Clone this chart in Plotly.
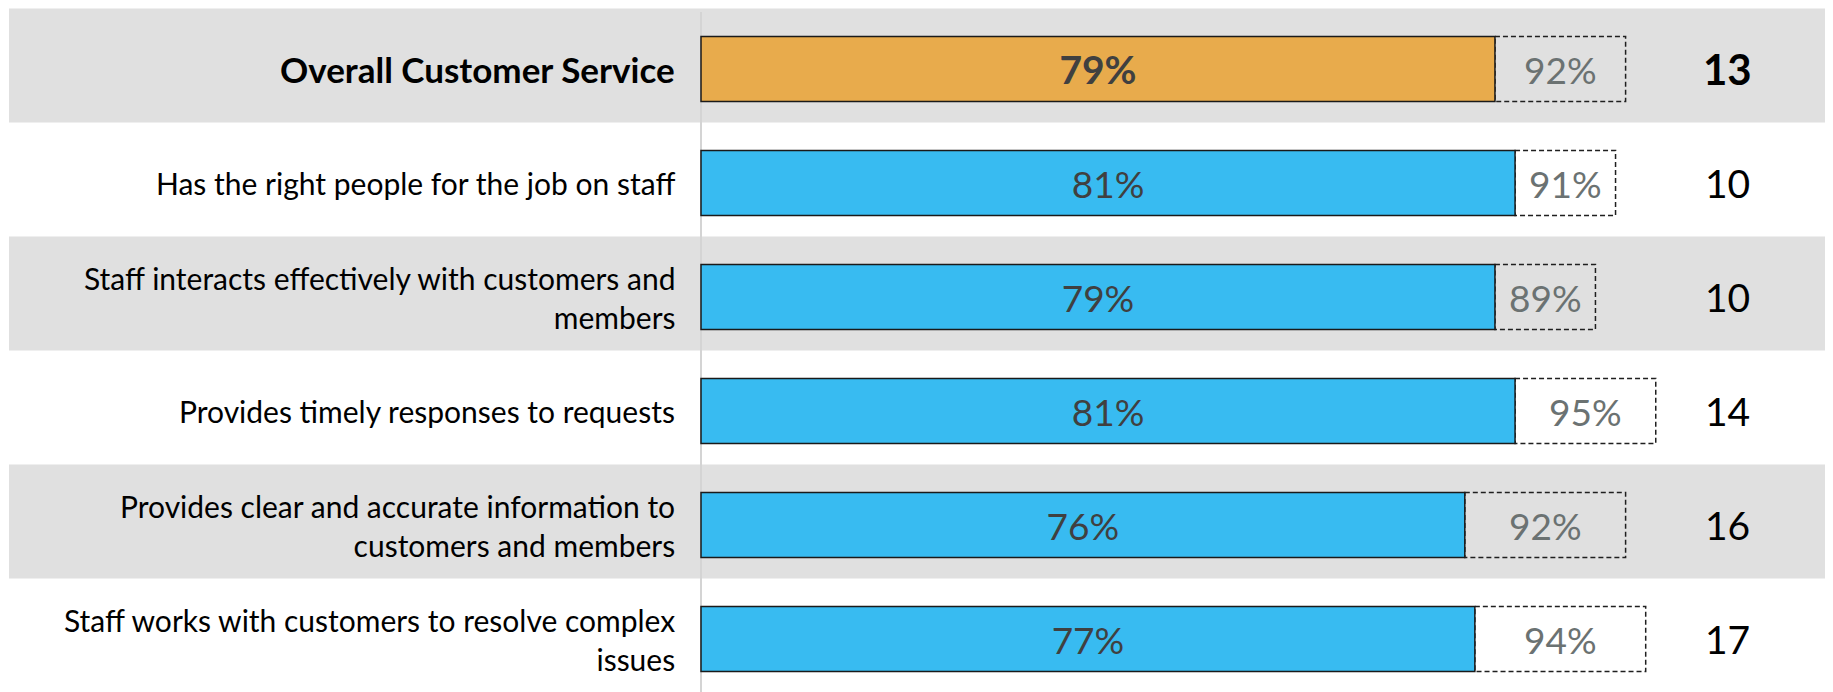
import plotly.graph_objects as go

categories = [
    "Overall Customer Service",
    "Has the right people for the job on staff",
    "Staff interacts effectively with customers and<br>members",
    "Provides timely responses to requests",
    "Provides clear and accurate information to<br>customers and members",
    "Staff works with customers to resolve complex<br>issues",
]
scores = [79, 81, 79, 81, 76, 77]
targets = [92, 91, 89, 95, 92, 94]
gaps = [13, 10, 10, 14, 16, 17]
highlight = [True, False, False, False, False, False]

ORANGE = "#E8AB4C"
BLUE = "#38BBF1"
BAND = "#E0E0E0"
FONT = "Lato"

W, H = 1833, 692
OFF = 8  # page body margin
px_per_pct = 10.05
x0_px = 701 - OFF
x_range = [-x0_px / px_per_pct, (W - x0_px) / px_per_pct]
row_px = 114.0
row0_px = 69.0 - OFF
y_range = [(H - row0_px) / row_px, -row0_px / row_px]

rows = list(range(len(categories)))

fig = go.Figure()

shapes = []
for i in rows:
    if i % 2 == 0:
        shapes.append(dict(type="rect", xref="paper", yref="y",
                           x0=1 / W, x1=1, y0=i - 0.53, y1=i + 0.47,
                           fillcolor=BAND, line=dict(width=0), layer="below"))
shapes.append(dict(type="line", xref="x", yref="paper", x0=0, x1=0,
                   y0=0, y1=1 - 4 / H, line=dict(color="#D4D4D4", width=2),
                   layer="below"))
for i, (s, t) in enumerate(zip(scores, targets)):
    shapes.append(dict(type="rect", xref="x", yref="y",
                       x0=s, x1=t, y0=i - 0.285, y1=i + 0.285,
                       fillcolor="rgba(0,0,0,0)",
                       line=dict(color="#1F1F1F", width=1.5, dash="5px,3px"),
                       layer="below"))

colors = [ORANGE if h else BLUE for h in highlight]
texts = [f"<b>{s}%</b>" if h else f"{s}%" for s, h in zip(scores, highlight)]
bar_sizes = [39 if h else 37 for h in highlight]

fig.add_trace(go.Bar(
    x=scores, y=rows, orientation="h", width=0.57,
    marker=dict(color=colors, line=dict(color="#1A1A1A", width=1.5)),
    text=texts, textposition="inside", insidetextanchor="middle",
    textfont=dict(family=FONT, size=bar_sizes, color="#404040"),
    hoverinfo="skip", constraintext="none",
))

annotations = []
for i, (cat, s, t, g, h) in enumerate(zip(categories, scores, targets, gaps, highlight)):
    annotations.append(dict(
        x=-2.4, y=i, xref="x", yref="y", xanchor="right", yanchor="middle",
        align="right", showarrow=False,
        text=f"<b>{cat}</b>" if h else cat,
        font=dict(family=FONT, size=35 if h else 30, color="#000000"),
    ))
    annotations.append(dict(
        x=(s + t) / 2, y=i, xref="x", yref="y", xanchor="center", yanchor="middle",
        showarrow=False, text=f"{t}%",
        font=dict(family=FONT, size=37, color="#6B7272"),
    ))
    annotations.append(dict(
        x=102.1, y=i, xref="x", yref="y", xanchor="center", yanchor="middle",
        showarrow=False, text=f"<b>{g}</b>" if h else f"{g}",
        font=dict(family=FONT, size=42 if h else 39, color="#000000"),
    ))

fig.update_layout(
    width=W, height=H,
    margin=dict(l=0, r=0, t=0, b=0),
    paper_bgcolor="white", plot_bgcolor="white",
    showlegend=False,
    shapes=shapes, annotations=annotations,
    xaxis=dict(range=x_range, visible=False, fixedrange=True),
    yaxis=dict(range=y_range, visible=False, fixedrange=True),
)

fig.write_html("out.html")
